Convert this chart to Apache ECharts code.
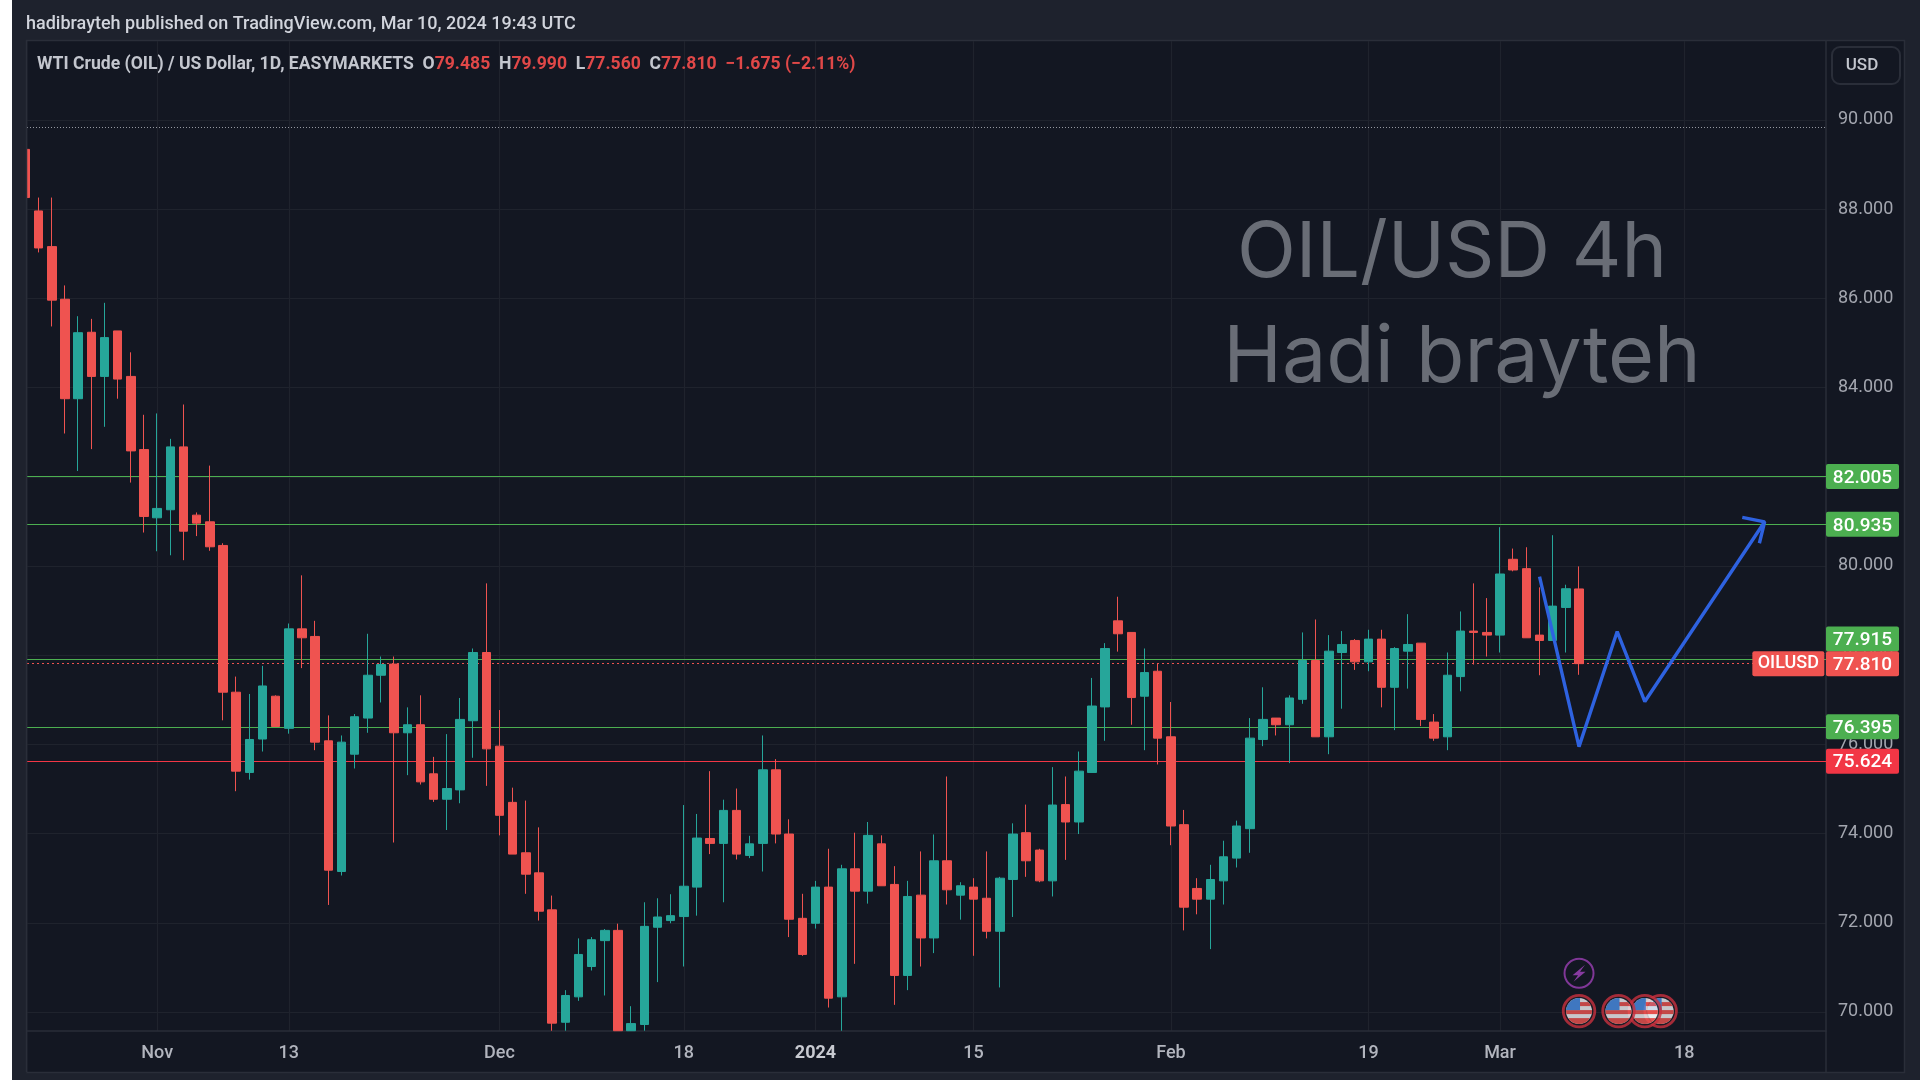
<!DOCTYPE html>
<html>
<head>
<meta charset="utf-8">
<title>OIL/USD</title>
<style>
html, body { margin: 0; padding: 0; background: #1e222d; }
#main { width: 1920px; height: 1080px; }
</style>
<script src="https://cdn.jsdelivr.net/npm/echarts@6/dist/echarts.min.js"></script>
</head>
<body>
<div id="main"></div>
<script>
// daily candles
var opens = [89.34,87.96,87.16,85.98,83.75,85.24,84.25,85.27,84.25,82.61,81.08,81.26,82.67,81.14,80.99,80.46,77.17,75.37,76.12,77.08,76.36,78.59,78.42,76.08,73.15,75.78,76.59,77.55,77.80,76.26,76.44,75.34,74.77,74.98,76.53,78.06,75.96,74.70,73.57,73.12,72.29,69.77,70.34,71.02,71.60,71.83,69.58,69.72,71.90,72.05,72.14,72.80,73.89,73.78,74.52,73.51,73.78,75.43,73.99,72.10,71.99,72.80,70.34,73.21,72.71,73.77,72.86,70.82,72.62,71.66,73.39,72.62,72.80,72.55,71.81,72.97,74.02,73.63,72.94,74.65,74.26,75.37,76.84,78.77,78.51,77.08,77.64,76.17,74.20,72.77,72.53,72.94,73.45,74.11,76.11,76.59,76.44,77.01,77.88,76.17,78.06,78.33,77.85,78.36,77.28,78.09,78.27,76.50,76.17,77.52,78.54,78.51,78.45,80.15,79.94,78.45,78.33,79.07,79.485]
var closes = [88.26,87.13,85.96,83.75,85.23,84.25,85.12,84.19,82.58,81.11,81.29,82.67,80.78,80.96,80.43,77.17,75.40,76.11,77.31,76.40,78.59,78.39,76.05,73.18,76.05,76.62,77.55,77.79,76.26,76.44,75.16,74.77,75.01,76.56,78.06,75.90,74.41,73.54,73.09,72.26,69.75,70.37,71.29,71.62,71.83,69.58,69.74,71.92,72.13,72.16,72.82,73.90,73.78,74.52,73.54,73.77,75.43,73.99,72.08,71.29,72.80,70.31,73.21,72.71,73.96,72.83,70.82,72.59,71.66,73.39,72.74,72.83,72.53,71.81,73.00,73.99,73.39,72.94,74.64,74.26,75.40,76.86,78.15,78.48,77.05,77.61,76.14,74.17,72.35,72.53,72.97,73.48,74.17,76.14,76.56,76.44,77.04,77.88,76.17,78.09,78.24,77.85,78.36,77.28,78.15,78.24,76.56,76.14,77.55,78.54,78.51,78.45,79.82,79.91,78.39,78.33,79.10,79.49,77.81]
var lows = [88.26,87.03,85.37,82.97,82.13,82.62,83.12,83.75,81.87,80.75,80.33,80.24,80.13,80.67,80.34,76.54,74.95,75.21,75.84,76.40,76.24,77.71,75.87,72.40,73.06,75.46,76.26,76.94,73.80,75.31,75.10,74.71,74.08,74.68,75.70,75.07,73.96,73.54,72.65,72.05,69.58,69.58,70.25,70.93,70.37,69.58,69.58,69.58,70.67,71.99,71.02,72.16,73.54,72.46,73.42,73.45,73.15,73.78,71.68,71.26,71.87,70.10,69.58,71.08,72.43,72.83,70.16,70.49,71.02,71.32,72.41,72.07,71.26,71.65,70.55,72.13,73.03,72.91,72.59,73.41,73.99,75.37,76.08,78.08,76.44,75.87,75.55,73.74,71.83,72.19,71.41,72.41,73.24,73.57,75.96,76.20,75.58,76.91,76.17,75.78,76.80,77.67,77.64,76.83,76.32,77.25,76.41,76.08,75.87,77.19,77.79,77.97,78.06,79.88,78.39,77.55,78.33,78.06,77.56]
var highs = [89.34,88.26,88.26,86.29,85.60,85.54,85.90,85.27,84.79,83.39,83.42,82.85,83.62,81.20,82.25,80.51,77.52,77.13,77.76,77.10,78.71,79.79,78.77,76.65,76.20,76.68,78.48,77.97,77.97,76.83,77.10,75.72,76.23,77.04,78.15,79.61,76.77,75.03,74.74,74.14,72.61,70.49,71.65,71.68,71.86,71.98,70.13,72.46,72.55,72.64,74.64,74.44,75.40,74.76,75.01,73.95,76.20,75.67,74.32,72.65,72.94,73.66,73.30,74.02,74.26,73.96,73.27,72.94,73.60,73.98,75.28,72.91,73.00,73.60,73.03,74.23,74.65,73.66,75.49,75.28,75.84,77.49,78.27,79.31,78.51,78.15,77.82,76.95,74.53,73.00,73.30,73.84,74.29,76.59,77.28,76.59,77.10,78.51,78.80,78.45,78.54,78.36,78.57,78.57,78.18,78.92,78.27,76.68,78.06,78.98,79.61,79.28,80.87,80.39,80.42,79.52,80.69,79.58,79.99]

var timeTicks = [10, 20, 36, 50, 60, 72, 87, 102, 112, 126]
var timeLabels = ['Nov', '13', 'Dec', '18', '2024', '15', 'Feb', '19', 'Mar', '18']
var priceTicks = [70, 72, 74, 76, 78, 80, 82, 84, 86, 88, 90]

// horizontal levels with their price tags
var levelPrices = [82.005, 80.935, 77.915, 76.395, 75.624]
var levelColors = ['#4caf50', '#4caf50', '#4caf50', '#4caf50', '#f23645']
var lastPrice = 77.81
var topDotted = 89.84

// hand drawn projection
var drawX = [115, 118, 120.9, 123, 132.1]
var drawY = [79.76, 75.95, 78.53, 76.96, 80.99]
var arrowX = [130.4, 132.1, 131.7]
var arrowY = [81.09, 80.99, 80.51]

// events along the bottom
var flagX = [124.2, 123, 121, 118]
var flagY = [70.02, 70.02, 70.02, 70.02]
var boltX = [118]
var boltY = [70.87]

var flagSvg = '<svg xmlns="http://www.w3.org/2000/svg" width="36" height="36" viewBox="0 0 36 36">' +
    '<defs><clipPath id="c"><circle cx="18" cy="18" r="13"/></clipPath></defs>' +
    '<circle cx="18" cy="18" r="15.8" fill="#1c1e26" stroke="#c9303e" stroke-width="2.8"/>' +
    '<g clip-path="url(#c)"><rect x="0" y="0" width="36" height="36" fill="#f4f4f6"/>' +
    '<rect x="0" y="9" width="36" height="4" fill="#ef5350"/>' +
    '<rect x="0" y="17" width="36" height="4" fill="#ef5350"/>' +
    '<rect x="0" y="25" width="36" height="6" fill="#ef5350"/>' +
    '<rect x="3" y="4" width="16" height="13" fill="#4a90e8"/></g></svg>'
var boltSvg = '<svg xmlns="http://www.w3.org/2000/svg" width="32" height="32" viewBox="0 0 32 32">' +
    '<circle cx="16" cy="16" r="14.5" fill="#131722" stroke="#9c3fb5" stroke-width="2"/>' +
    '<path d="M22 7.5 L9.5 18 L15 18 L10.5 24.5 L22.5 14.5 L17 14.5 Z" fill="#a445c0"/></svg>'

var candles = []
for (var i = 0; i < opens.length; i++) {
    candles.push([i, opens[i], closes[i], lows[i], highs[i]])
}
function pairs(xs, ys) {
    var out = []
    for (var j = 0; j < xs.length; j++) {
        out.push([xs[j], ys[j]])
    }
    return out
}

var levelLines = []
for (var k = 0; k < levelPrices.length; k++) {
    levelLines.push({
        yAxis: levelPrices[k],
        lineStyle: { color: levelColors[k], type: 'solid', width: 1.1 },
        label: {
            backgroundColor: levelColors[k],
            // 77.915 gets pushed up by the last price tag
            offset: k == 2 ? [0, -20] : [0, 0]
        }
    })
}
levelLines.push({
    yAxis: lastPrice,
    lineStyle: { color: '#ef5350', type: [2, 3], width: 1.2 },
    label: { backgroundColor: '#ef5350' }
})
levelLines.push({
    yAxis: topDotted,
    lineStyle: { color: '#9598a1', type: [1, 2], width: 1 },
    label: { show: false }
})

var myChart = echarts.init(document.getElementById('main'))
myChart.setOption({
    animation: false,
    backgroundColor: '#1e222d',
    textStyle: { fontFamily: 'Roboto' },
    title: [
        {
            text: 'hadibrayteh published on TradingView.com, Mar 10, 2024 19:43 UTC',
            left: 26, top: 15, padding: 0,
            textStyle: { color: '#d1d4dc', fontSize: 18, fontWeight: 500, fontFamily: 'Roboto' }
        },
        {
            text: '{t|WTI Crude (OIL) / US Dollar, 1D, EASYMARKETS}  {t|O}{r|79.485}  {t|H}{r|79.990}  {t|L}{r|77.560}  {t|C}{r|77.810}  {r|\u22121.675 (\u22122.11%)}',
            left: 37, top: 56, padding: 0,
            textStyle: {
                fontSize: 17.6,
                rich: {
                    t: { color: '#c3c6ce', fontSize: 17.6, fontFamily: 'Roboto' },
                    r: { color: '#e04848', fontSize: 17.6, fontFamily: 'Roboto' }
                }
            }
        },
        {
            text: 'OIL/USD 4h',
            left: 1452, top: 254, padding: 0, textAlign: 'center', textVerticalAlign: 'middle',
            textStyle: { color: '#696d76', fontSize: 77, fontWeight: 400, fontFamily: 'Inter' }
        },
        {
            text: 'Hadi brayteh',
            left: 1462, top: 358, padding: 0, textAlign: 'center', textVerticalAlign: 'middle',
            textStyle: { color: '#696d76', fontSize: 79, fontWeight: 400, fontFamily: 'Inter' }
        }
    ],
    graphic: [
        { type: 'rect', z: -10, shape: { x: 0, y: 0, width: 12, height: 1080 }, style: { fill: '#ffffff' } },
        { type: 'rect', z: -9, shape: { x: 26.5, y: 40.5, width: 1878, height: 1032 }, style: { fill: '#131722', stroke: '#2a2e39', lineWidth: 1.5 } },
        { type: 'line', z: -8, shape: { x1: 1826, y1: 1031, x2: 1826, y2: 1072 }, style: { stroke: '#2a2e39', lineWidth: 1.5 } },
        // normal candles are not cut at the grid edge, so the first one is masked here
        { type: 'rect', z: 9, shape: { x: 12, y: 41, width: 14.5, height: 1032 }, style: { fill: '#1e222d' } },
        { type: 'line', z: 9, shape: { x1: 26.5, y1: 41, x2: 26.5, y2: 1072 }, style: { stroke: '#2a2e39', lineWidth: 1.5 } },
        {
            type: 'rect', z: 20,
            shape: { x: 1832, y: 47, width: 68, height: 37, r: 8 },
            style: { fill: '#131722', stroke: '#2a2e39', lineWidth: 2 }
        },
        {
            type: 'text', z: 21, x: 1862, y: 66,
            style: { text: 'USD', fill: '#c3c6ce', font: '500 17px Roboto', textAlign: 'center', textVerticalAlign: 'middle' }
        }
    ],
    grid: { left: 27, right: 94, top: 41, bottom: 49 },
    xAxis: {
        type: 'value',
        min: 0.11,
        max: 136.76,
        axisLine: { show: true, lineStyle: { color: '#2a2e39', width: 1.5 } },
        axisTick: { show: false, customValues: timeTicks },
        splitLine: { show: true, lineStyle: { color: '#1f232d', width: 1.2 } },
        axisLabel: {
            customValues: timeTicks,
            color: '#b2b5be',
            fontSize: 18,
            fontWeight: 500,
            margin: 13,
            formatter: function (v) {
                var s = timeLabels[timeTicks.indexOf(v)]
                return s == '2024' ? '{b|2024}' : s
            },
            rich: { b: { color: '#c8cad1', fontSize: 18, fontWeight: 700 } }
        }
    },
    yAxis: {
        type: 'value',
        position: 'right',
        min: 69.574,
        max: 91.77,
        axisLine: { show: true, lineStyle: { color: '#2a2e39', width: 1.5 } },
        axisTick: { show: false, customValues: priceTicks },
        splitLine: { show: true, lineStyle: { color: '#1f232d', width: 1.2 } },
        axisLabel: {
            customValues: priceTicks,
            color: '#a3a6af',
            fontSize: 18,
            margin: 12,
            padding: [4, 0, 0, 0],
            formatter: function (v) {
                return v.toFixed(3)
            }
        }
    },
    series: [
        {
            type: 'candlestick',
            name: 'OILUSD',
            data: candles,
            encode: { x: 0, y: [1, 2, 3, 4] },
            barWidth: 9,
            clip: true,
            z: 3,
            itemStyle: {
                color: '#26a69a',
                color0: '#ef5350',
                borderColor: '#26a69a',
                borderColor0: '#ef5350',
                borderWidth: 1
            },
            markLine: {
                silent: true,
                z: 1,
                symbol: 'none',
                precision: 3,
                label: {
                    show: true,
                    position: 'end',
                    distance: 0,
                    width: 73,
                    height: 25,
                    lineHeight: 25,
                    align: 'left',
                    verticalAlign: 'middle',
                    borderRadius: 2,
                    color: '#ffffff',
                    fontSize: 19,
                    fontWeight: 500,
                    fontFamily: 'Roboto',
                    padding: 0,
                    formatter: function (p) {
                        return '{v|' + p.value.toFixed(3) + '}'
                    },
                    rich: { v: { width: 73, align: 'center', color: '#ffffff', fontSize: 19, fontWeight: 500, padding: [3, 0, 0, 0] } }
                },
                data: levelLines
            },
            markPoint: {
                silent: true,
                symbolSize: 0,
                data: [{
                    coord: [133.9, lastPrice],
                    label: {
                        show: true,
                        position: 'inside',
                        formatter: 'OILUSD',
                        width: 72,
                        height: 25,
                        lineHeight: 25,
                        align: 'center',
                        verticalAlign: 'middle',
                        backgroundColor: '#ef5350',
                        borderRadius: 2,
                        color: '#ffffff',
                        fontSize: 18,
                        fontWeight: 500
                    }
                }]
            }
        },
        {
            type: 'line',
            name: 'projection',
            data: pairs(drawX, drawY),
            symbol: 'none',
            z: 6,
            silent: true,
            lineStyle: { color: '#2e62e0', width: 3.4 }
        },
        {
            type: 'line',
            name: 'arrow',
            data: pairs(arrowX, arrowY),
            symbol: 'none',
            z: 6,
            silent: true,
            lineStyle: { color: '#2e62e0', width: 3.4 }
        },
        {
            type: 'scatter',
            name: 'events',
            data: pairs(flagX, flagY),
            symbol: 'image://data:image/svg+xml;charset=utf-8,' + encodeURIComponent(flagSvg),
            symbolSize: 36,
            z: 7,
            silent: true
        },
        {
            type: 'scatter',
            name: 'news',
            data: pairs(boltX, boltY),
            symbol: 'image://data:image/svg+xml;charset=utf-8,' + encodeURIComponent(boltSvg),
            symbolSize: 32,
            z: 7,
            silent: true
        }
    ]
})
</script>
</body>
</html>
